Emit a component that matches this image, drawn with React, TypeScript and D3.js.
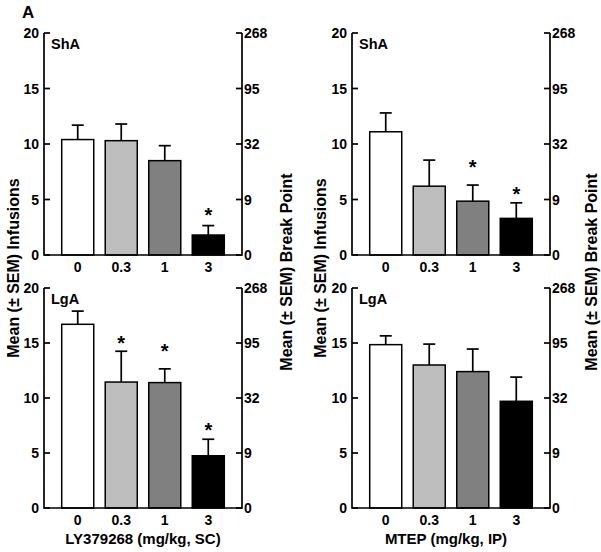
import React from "react";
import * as d3 from "d3";

const doses = ["0", "0.3", "1", "3"];
const leftTicks = [0, 5, 10, 15, 20];
const rightTickLabels = ["0", "9", "32", "95", "268"];

const lyShAMean = [10.4, 10.3, 8.5, 1.8];
const lyShASem = [1.3, 1.5, 1.35, 0.85];
const lyShAStar = [null, null, null, 3.95];

const lyLgAMean = [16.7, 11.45, 11.4, 4.75];
const lyLgASem = [1.2, 2.8, 1.25, 1.5];
const lyLgAStar = [null, 15.4, 14.6, 7.5];

const mtepShAMean = [11.1, 6.2, 4.85, 3.3];
const mtepShASem = [1.7, 2.35, 1.45, 1.4];
const mtepShAStar = [null, null, 8.3, 5.85];

const mtepLgAMean = [14.85, 13.0, 12.4, 9.7];
const mtepLgASem = [0.8, 1.9, 2.05, 2.2];
const mtepLgAStar = [null, null, null, null];

const barColors = ["#ffffff", "#bebebe", "#808080", "#000000"];
const FONT = "'Liberation Sans', Arial, Helvetica, sans-serif";

type PanelProps = {
  x0: number; x1: number; y0: number; y1: number;
  means: number[]; sems: number[]; stars: (number | null)[]; tag: string;
};

function Panel({ x0, x1, y0, y1, means, sems, stars, tag }: PanelProps) {
  const x = d3.scaleBand<string>().domain(doses).range([x0, x1]).paddingInner(0.264).paddingOuter(0.407);
  const y = d3.scaleLinear().domain([0, 20]).range([y1, y0]);
  const bw = x.bandwidth();
  const tick = 6;
  return (
    <g>
      {doses.map((d, i) => {
        const cx = (x(d) as number) + bw / 2;
        const top = y(means[i]);
        const et = y(means[i] + sems[i]);
        return (
          <g key={d}>
            <line x1={cx} x2={cx} y1={top} y2={et} stroke="#000" strokeWidth={1.7} />
            <line x1={cx - 6} x2={cx + 6} y1={et} y2={et} stroke="#000" strokeWidth={1.7} />
            <rect x={x(d)} y={top} width={bw} height={y1 - top} fill={barColors[i]} stroke="#000" strokeWidth={1.5} />
            {stars[i] != null && (
              <text x={cx} y={y(stars[i] as number) + 11} textAnchor="middle" fontSize={20} fontWeight="bold" fontFamily={FONT}>*</text>
            )}
            <text x={cx} y={y1 + 17} textAnchor="middle" fontSize={14} fontWeight="bold" fontFamily={FONT}>{d}</text>
          </g>
        );
      })}
      <path d={`M${x0},${y0}V${y1}H${x1}V${y0}`} fill="none" stroke="#000" strokeWidth={1.7} />
      {leftTicks.map((t, i) => (
        <g key={t}>
          <line x1={x0} x2={x0 + tick} y1={y(t)} y2={y(t)} stroke="#000" strokeWidth={1.7} />
          <line x1={x1 - tick} x2={x1} y1={y(t)} y2={y(t)} stroke="#000" strokeWidth={1.7} />
          <text x={x0 - 5} y={y(t) + 5} textAnchor="end" fontSize={14} fontWeight="bold" fontFamily={FONT}>{t}</text>
          <text x={x1 + 2} y={y(t) + 5} textAnchor="start" fontSize={14} fontWeight="bold" fontFamily={FONT}>{rightTickLabels[i]}</text>
        </g>
      ))}
      <text x={x0 + 7} y={y0 + 16} fontSize={14.5} fontWeight="bold" fontFamily={FONT}>{tag}</text>
    </g>
  );
}

export default function App() {
  const yl = (cx: number, cy: number, s: string) => (
    <text transform={`translate(${cx},${cy}) rotate(-90)`} textAnchor="middle" fontSize={16} fontWeight="bold" fontFamily={FONT} dy="0.35em">{s}</text>
  );
  return (
    <svg width={601} height={552} style={{ position: "absolute", left: 0, top: 0, background: "#fff" }}>
      <rect width={601} height={552} fill="#fff" />
      <text x={22} y={18} fontSize={17} fontWeight="bold" fontFamily={FONT}>A</text>
      <Panel x0={44} x1={242} y0={33} y1={255} means={lyShAMean} sems={lyShASem} stars={lyShAStar} tag="ShA" />
      <Panel x0={352} x1={550} y0={33} y1={255} means={mtepShAMean} sems={mtepShASem} stars={mtepShAStar} tag="ShA" />
      <Panel x0={44} x1={242} y0={288} y1={508} means={lyLgAMean} sems={lyLgASem} stars={lyLgAStar} tag="LgA" />
      <Panel x0={352} x1={550} y0={288} y1={508} means={mtepLgAMean} sems={mtepLgASem} stars={mtepLgAStar} tag="LgA" />
      {yl(13, 268, "Mean (± SEM) Infusions")}
      {yl(286, 272, "Mean (± SEM) Break Point")}
      {yl(320, 268, "Mean (± SEM) Infusions")}
      {yl(591, 272, "Mean (± SEM) Break Point")}
      <text x={143} y={544} textAnchor="middle" fontSize={15} fontWeight="bold" fontFamily={FONT}>LY379268 (mg/kg, SC)</text>
      <text x={446} y={544} textAnchor="middle" fontSize={15} fontWeight="bold" fontFamily={FONT}>MTEP (mg/kg, IP)</text>
    </svg>
  );
}
